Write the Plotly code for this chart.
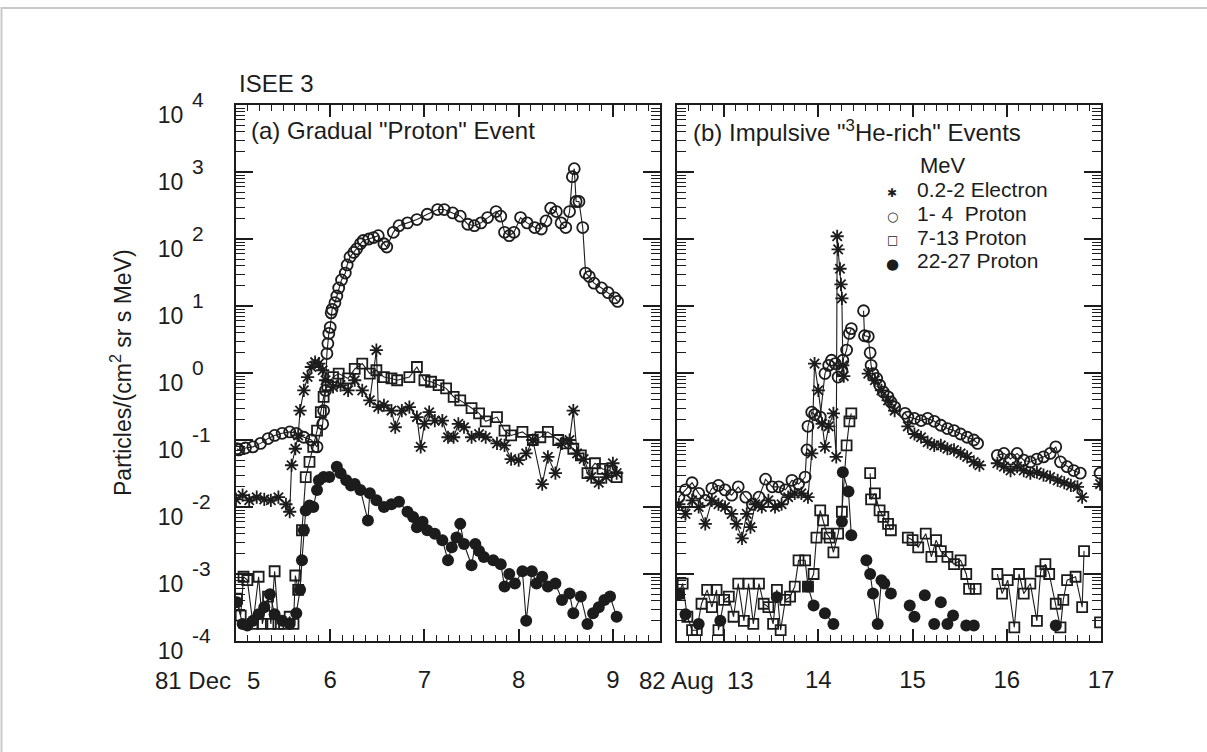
import plotly.graph_objects as go

W, H = 1207, 752
FONT = "Liberation Sans, Arial, Helvetica, sans-serif"
INK = "#1c1c1c"

# ---------------- (a) 1981 Dec, gradual event (day of month) ----------------
a_e_day = [5.00,5.07,5.14,5.22,5.30,5.37,5.45,5.53,5.57,5.59,5.63,5.66,5.68,5.72,5.76,5.80,5.84,5.88,
           5.92,5.95,6.03,6.11,6.19,6.26,6.34,6.42,6.49,6.51,6.57,6.65,6.69,6.76,6.84,6.92,6.96,7.00,
           7.05,7.11,7.19,7.25,7.31,7.36,7.42,7.50,7.58,7.65,7.77,7.85,7.92,8.00,8.08,8.15,8.25,8.31,
           8.39,8.46,8.54,8.58,8.62,8.69,8.77,8.85,8.93,9.00,9.04]
a_e_val = [1.3e-2,1.5e-2,1.26e-2,1.4e-2,1.3e-2,1.26e-2,1.4e-2,1.1e-2,8.5e-3,4.2e-2,7.4e-2,0.117,0.275,
           0.55,0.87,1.23,1.45,1.38,1.1,0.78,0.62,0.66,0.55,0.78,0.55,0.39,2.2,0.31,0.33,0.275,0.155,
           0.275,0.31,0.22,7.9e-2,0.174,0.26,0.195,0.195,0.11,0.11,0.174,0.155,0.11,0.123,0.11,8.9e-2,
           8.3e-2,5.2e-2,5.0e-2,6.3e-2,0.1,2.2e-2,5.6e-2,3.2e-2,8.9e-2,0.1,0.275,6.3e-2,5.2e-2,2.8e-2,
           2.3e-2,2.8e-2,4.5e-2,3.2e-2]

a_p1_day = [5.01,5.03,5.10,5.18,5.26,5.34,5.41,5.49,5.57,5.64,5.72,5.80,5.86,5.92,5.93,5.95,5.965,5.975,
            5.985,6.00,6.01,6.02,6.05,6.07,6.09,6.12,6.16,6.18,6.21,6.25,6.28,6.32,6.35,6.41,6.46,6.51,
            6.57,6.60,6.67,6.73,6.82,6.92,7.03,7.14,7.21,7.30,7.38,7.46,7.53,7.60,7.67,7.76,7.81,7.85,
            7.90,7.95,8.02,8.09,8.17,8.24,8.29,8.34,8.40,8.45,8.50,8.54,8.57,8.59,8.61,8.64,8.68,8.71,
            8.75,8.80,8.88,8.95,9.02,9.05]
a_p1_val = [7.4e-2,7.1e-2,7.6e-2,7.9e-2,8.9e-2,0.105,0.117,0.126,0.132,0.126,0.11,0.1,7.9e-2,0.174,0.275,
            0.55,1.95,2.75,3.9,4.8,7.9,8.9,11.2,14.1,18.6,24.5,31,41,54,63,71,85,95,100,105,112,85,76,
            126,158,174,195,234,275,275,245,219,166,158,174,209,257,219,126,112,126,209,174,148,141,186,
            288,257,174,148,257,851,1120,363,363,148,31,27.5,21.9,18.6,15.8,13.2,11.7]

a_p7_day = [5.01,5.05,5.08,5.12,5.18,5.24,5.28,5.34,5.37,5.41,5.45,5.51,5.57,5.61,5.63,5.66,5.70,5.74,
            5.78,5.82,5.86,5.90,5.93,5.97,6.03,6.09,6.19,6.26,6.34,6.42,6.49,6.57,6.65,6.71,6.84,6.92,
            7.00,7.07,7.15,7.23,7.31,7.38,7.50,7.58,7.65,7.77,7.85,7.92,8.04,8.15,8.23,8.31,8.42,8.50,
            8.58,8.66,8.73,8.81,8.89,8.97,9.04]
a_p7_val = [4.3e-4,2.4e-4,9.1e-4,8.1e-4,1.8e-4,9.1e-4,1.8e-4,4.6e-4,1.8e-4,1.1e-3,1.8e-4,1.8e-4,2.3e-4,
            1.8e-4,9.5e-4,5.8e-4,4.5e-3,2.8e-2,4.7e-2,7.9e-2,0.138,0.26,0.44,0.66,0.87,0.98,0.83,1.15,
            1.38,0.98,1.1,0.87,0.83,0.78,0.87,1.23,0.78,0.74,0.66,0.59,0.44,0.39,0.3,0.25,0.19,0.22,
            0.138,0.117,0.132,0.1,0.11,0.132,0.1,8.9e-2,7.4e-2,5.9e-2,3.2e-2,4.5e-2,3.7e-2,3.5e-2,2.8e-2]

a_p22_day = [5.01,5.07,5.12,5.18,5.24,5.30,5.36,5.41,5.49,5.57,5.64,5.68,5.70,5.72,5.74,5.78,5.82,5.86,
             5.88,5.93,5.99,6.07,6.11,6.17,6.22,6.26,6.32,6.40,6.42,6.49,6.57,6.65,6.73,6.82,6.88,6.92,
             6.98,7.03,7.11,7.19,7.25,7.29,7.34,7.38,7.42,7.50,7.54,7.58,7.63,7.73,7.81,7.85,7.90,7.96,
             8.04,8.08,8.14,8.19,8.25,8.31,8.39,8.46,8.54,8.58,8.66,8.73,8.79,8.85,8.91,8.97,9.04]
a_p22_val = [3.8e-4,1.8e-4,1.7e-4,2.0e-4,2.5e-4,3.2e-4,5.0e-4,2.5e-4,2.0e-4,1.8e-4,2.6e-4,5.8e-4,1.6e-3,
             4.5e-3,8.9e-3,1.05e-2,1.0e-2,1.8e-2,2.5e-2,2.8e-2,2.8e-2,4.0e-2,3.2e-2,2.5e-2,2.1e-2,2.2e-2,
             1.8e-2,6.3e-3,1.6e-2,1.26e-2,1.0e-2,1.1e-2,1.2e-2,8.5e-3,7.1e-3,5.0e-3,6.0e-3,4.5e-3,4.0e-3,
             3.2e-3,1.6e-3,2.5e-3,3.5e-3,5.6e-3,2.8e-3,1.35e-3,2.8e-3,2.2e-3,1.8e-3,1.6e-3,1.4e-3,6.5e-4,
             1.0e-3,7.2e-4,1.1e-3,2.0e-4,1.1e-3,7.2e-4,9.1e-4,6.5e-4,7.2e-4,4.1e-4,5.1e-4,2.6e-4,4.6e-4,
             1.8e-4,2.6e-4,3.2e-4,4.1e-4,4.6e-4,2.3e-4]

# ---------------- (b) 1982 Aug, impulsive events (day of month; None = data gap) ----------------
b_e_day = [12.52,12.59,12.66,12.73,12.80,12.87,12.94,13.01,13.08,13.13,13.19,13.24,13.28,13.33,13.40,
           13.47,13.54,13.61,13.68,13.75,13.82,13.89,13.93,13.96,14.00,14.04,14.07,14.11,14.16,14.19,
           14.20,14.21,14.23,14.24,14.25,14.26,14.27,None,14.53,14.60,14.67,14.74,14.81,None,14.95,15.02,
           15.09,15.16,15.23,15.30,15.37,15.44,15.51,15.58,15.65,15.71,None,15.90,15.97,16.04,16.11,16.18,
           16.25,16.32,16.39,16.46,16.54,16.61,16.68,16.75,16.80,None,16.99]
b_e_val = [1.1e-2,7.9e-3,1.26e-2,1.0e-2,5.6e-3,1.26e-2,1.1e-2,1.0e-2,7.9e-3,5.6e-3,3.4e-3,7.9e-3,5.0e-3,
           1.1e-2,1.0e-2,1.26e-2,1.0e-2,1.1e-2,1.4e-2,1.6e-2,1.6e-2,1.4e-2,6.3e-2,1.38,0.55,0.174,7.9e-2,
           0.16,0.25,5.6e-2,110,70,36,21,13,1.3,0.9,None,0.98,0.78,0.55,0.39,0.275,None,0.16,0.123,0.11,
           9.3e-2,8.3e-2,8.3e-2,7.4e-2,7.1e-2,6.3e-2,5.6e-2,4.7e-2,4.2e-2,None,4.5e-2,4.0e-2,3.5e-2,
           4.0e-2,3.5e-2,3.2e-2,3.3e-2,3.0e-2,2.8e-2,2.5e-2,2.3e-2,2.1e-2,2.0e-2,1.4e-2,None,2.2e-2]

b_p1_day = [12.52,12.59,12.66,12.73,12.80,12.87,12.94,13.01,13.08,13.15,13.23,13.30,13.37,13.44,13.51,
            13.58,13.65,13.72,13.79,13.86,13.88,13.89,13.93,13.96,14.02,14.07,14.11,14.14,14.18,14.21,
            14.25,14.26,14.30,14.33,14.35,None,14.48,14.49,14.53,14.55,14.56,14.58,14.62,14.65,14.69,
            14.74,14.77,14.81,None,14.92,14.95,15.02,15.09,15.16,15.23,15.30,15.37,15.44,15.51,15.58,
            15.65,15.69,None,15.90,15.97,16.04,16.11,16.18,16.25,16.32,16.39,16.46,16.52,16.57,16.64,
            16.71,16.78,None,16.99]
b_p1_val = [1.4e-2,1.8e-2,2.3e-2,1.6e-2,1.26e-2,1.9e-2,2.1e-2,1.8e-2,1.5e-2,2.0e-2,1.4e-2,1.1e-2,1.4e-2,
            2.6e-2,2.0e-2,2.0e-2,1.8e-2,2.5e-2,2.2e-2,2.8e-2,7.1e-2,0.16,0.26,0.24,0.22,0.98,1.3,1.55,
            1.38,0.87,1.1,1.55,2.2,3.9,4.6,None,8.5,3.6,3.5,2.0,1.3,0.98,0.83,0.66,0.52,0.44,0.37,0.31,
            None,0.25,0.22,0.21,0.195,0.21,0.19,0.166,0.148,0.138,0.123,0.11,0.1,8.9e-2,None,5.9e-2,
            6.3e-2,5.2e-2,6.3e-2,5.0e-2,4.7e-2,5.2e-2,5.6e-2,6.3e-2,7.9e-2,4.7e-2,4.0e-2,3.5e-2,3.2e-2,
            None,3.2e-2]

b_p7_day = [12.52,12.56,12.61,12.66,12.71,12.76,12.82,12.87,12.92,12.94,13.00,13.05,13.10,13.15,13.21,
            13.26,13.31,13.37,13.42,13.47,13.52,13.56,13.60,13.65,13.70,13.75,13.79,13.86,13.89,13.95,
            13.98,14.02,14.05,14.09,14.12,14.16,14.21,14.25,14.30,14.33,14.35,None,14.55,14.56,14.60,
            14.65,14.69,14.74,14.77,None,14.95,15.00,15.06,15.14,15.20,15.25,15.30,15.37,15.44,15.51,
            15.57,15.60,15.67,None,15.90,15.95,16.01,16.08,16.13,16.18,16.25,16.32,16.36,16.41,16.45,
            16.52,16.57,16.60,16.64,16.73,16.80,16.82,None,16.99]
b_p7_val = [5.1e-4,7.2e-4,2.3e-4,1.45e-4,1.45e-4,3.6e-4,5.8e-4,3.2e-4,5.8e-4,1.45e-4,4.1e-4,4.6e-4,2.3e-4,
            7.2e-4,2.0e-4,7.2e-4,1.8e-4,7.2e-4,3.6e-4,3.2e-4,1.8e-4,5.8e-4,1.45e-4,4.1e-4,4.6e-4,6.5e-4,
            1.6e-3,1.6e-3,6.5e-4,1.0e-3,3.5e-3,8.9e-3,6.3e-3,4.0e-3,3.5e-3,2.1e-3,4.0e-3,8.5e-3,8.3e-2,
            0.19,0.25,None,3.2e-2,1.3e-2,1.6e-2,8.9e-3,7.1e-3,5.6e-3,4.5e-3,None,3.5e-3,3.2e-3,2.5e-3,
            4.0e-3,1.8e-3,3.2e-3,2.2e-3,1.8e-3,1.4e-3,1.6e-3,1.0e-3,6.0e-4,6.0e-4,None,1.0e-3,5.1e-4,
            8.1e-4,1.6e-4,1.0e-3,5.1e-4,7.2e-4,2.0e-4,1.1e-3,1.4e-3,1.0e-3,3.6e-4,1.6e-4,4.1e-4,8.1e-4,
            9.1e-4,3.2e-4,2.2e-3,None,1.9e-4]

b_p22_day = [12.52,None,12.59,None,12.73,None,12.96,None,13.56,None,13.89,13.95,None,14.07,14.16,None,
             14.25,14.26,14.32,14.35,None,14.51,14.55,14.58,14.63,14.67,14.70,14.77,None,14.97,15.02,None,
             15.13,None,15.23,None,15.30,None,15.37,15.43,None,15.57,None,15.65,None,16.52]
b_p22_val = [5.0e-4,None,2.5e-4,None,1.8e-4,None,2.0e-4,None,4.5e-4,None,6.5e-4,3.4e-4,None,2.6e-4,1.8e-4,
             None,6.0e-3,3.3e-2,1.7e-2,3.8e-3,None,1.6e-3,1.0e-3,5.1e-4,1.8e-4,8.1e-4,7.2e-4,5.1e-4,None,
             3.4e-4,2.3e-4,None,4.8e-4,None,1.8e-4,None,3.8e-4,None,1.8e-4,2.4e-4,None,1.7e-4,None,1.7e-4,
             None,1.7e-4]

# ---------------- labels ----------------
series_names = ["0.2-2 Electron", "1- 4  Proton", "7-13 Proton", "22-27 Proton"]
legend_symbols = ["\u2731", "\u25cb", "\u25a1", "\u25cf"]
decades = list(range(-4, 5))
y_ticktext = ["10" for k in decades]
y_exponents = [str(k) for k in decades]
left_days = [5, 6, 7, 8, 9]
left_daytext = ["", "6", "7", "8", "9"]
right_days = [13, 14, 15, 16, 17]
right_daytext = ["", "14", "15", "16", "17"]

# ---------------- styling ----------------
MARK = {
    "e": dict(symbol="asterisk-open", size=11, color=INK, line=dict(width=1.8, color=INK)),
    "p1": dict(symbol="circle-open", size=11, color=INK, line=dict(width=1.8, color=INK)),
    "p7": dict(symbol="square-open", size=10, color=INK, line=dict(width=1.8, color=INK)),
    "p22": dict(symbol="circle", size=12, color=INK, line=dict(width=0, color=INK)),
}

fig = go.Figure()

def add(xs, ys, key, name, xa, ya):
    fig.add_trace(go.Scatter(
        x=xs, y=ys, mode="lines+markers", name=name, showlegend=False,
        line=dict(color=INK, width=1.1), marker=MARK[key], connectgaps=False,
        xaxis=xa, yaxis=ya, cliponaxis=True))

for (xs, ys, key, nm) in [(a_p22_day, a_p22_val, "p22", series_names[3]),
                          (a_p7_day, a_p7_val, "p7", series_names[2]),
                          (a_e_day, a_e_val, "e", series_names[0]),
                          (a_p1_day, a_p1_val, "p1", series_names[1])]:
    add(xs, ys, key, nm, "x", "y")

for (xs, ys, key, nm) in [(b_p22_day, b_p22_val, "p22", series_names[3]),
                          (b_p7_day, b_p7_val, "p7", series_names[2]),
                          (b_e_day, b_e_val, "e", series_names[0]),
                          (b_p1_day, b_p1_val, "p1", series_names[1])]:
    add(xs, ys, key, nm, "x2", "y2")

# pixel geometry of the two frames
XL0, XL1 = 236, 660
XR0, XR1 = 677, 1101
YT, YB = 105, 641

def fx(px):
    return px / W

def fy(py):
    return 1 - py / H

yminor = [m * 10.0 ** k for k in range(-4, 4) for m in range(2, 10)]

def xaxis_common(dom, rng, tv, tt, t0):
    return dict(
        domain=[fx(dom[0]), fx(dom[1])], range=rng, type="linear",
        showline=True, linewidth=2, linecolor=INK, mirror="allticks",
        ticks="inside", ticklen=12, tickwidth=1.5, tickcolor=INK,
        tickmode="array", tickvals=tv, ticktext=tt,
        tickfont=dict(family=FONT, size=24, color=INK),
        ticklabelstandoff=16,
        minor=dict(ticks="inside", ticklen=6, tickwidth=1.2, tickcolor=INK,
                   tick0=t0, dtick=0.125, showgrid=False),
        showgrid=False, zeroline=False, fixedrange=True, automargin=False)

def yaxis_common(anchor, labels):
    return dict(
        domain=[fy(YB), fy(YT)], type="log", range=[-4, 4], anchor=anchor,
        showline=True, linewidth=2, linecolor=INK, mirror="allticks",
        ticks="inside", ticklen=17, tickwidth=1.5, tickcolor=INK,
        tickmode="array", tickvals=[10.0 ** k for k in decades], ticktext=y_ticktext,
        showticklabels=labels,
        tickfont=dict(family=FONT, size=23, color=INK),
        ticklabelstandoff=46, ticklabelshift=10,
        minor=dict(ticks="inside", ticklen=9, tickwidth=1.2, tickcolor=INK,
                   tickmode="array", tickvals=yminor, showgrid=False),
        showgrid=False, zeroline=False, fixedrange=True, automargin=False)

xa1 = xaxis_common((XL0, XL1), [5, 9.5], left_days, left_daytext, 5)
xa1["anchor"] = "y"
xa2 = xaxis_common((XR0, XR1), [12.5, 17], right_days, right_daytext, 12.5)
xa2["anchor"] = "y2"

ann = []
def text(t, x, y, size=24, xanchor="left", yanchor="middle", angle=0, family=FONT):
    ann.append(dict(text=t, x=fx(x), y=fy(y), xref="paper", yref="paper",
                    xanchor=xanchor, yanchor=yanchor, showarrow=False, textangle=angle,
                    font=dict(family=family, size=size, color=INK)))

# exponents of the decade tick labels ("10" is the axis tick text)
for k, ex in zip(decades, y_exponents):
    ann.append(dict(text=ex, x=fx(190), y=k, xref="paper", yref="y", xanchor="left",
                    yanchor="middle", yshift=6, showarrow=False,
                    font=dict(family=FONT, size=21, color=INK)))

text("ISEE 3", 237, 84)
text("(a) Gradual \"Proton\" Event", 249, 131)
text("(b) Impulsive \"<sup>3</sup>He-rich\" Events", 691, 131)
text("Particles/(cm<sup>2</sup> sr s MeV)", 121, 373, size=23, xanchor="center", angle=-90)
text("81 Dec", 233, 680, xanchor="right")
text("5", 253.5, 680, xanchor="center")
text("82 Aug", 716, 680, xanchor="right")
text("13", 740.5, 680, xanchor="center")
# legend
text("MeV", 943, 165, size=22, xanchor="center")
leg_y_txt = [189.5, 213.3, 237.1, 260.9]
leg_y_sym = [193, 216, 240, 264]
leg_sizes = [12, 13, 12, 15]
for nm, sym, yt, ys, ss in zip(series_names, legend_symbols, leg_y_txt, leg_y_sym, leg_sizes):
    text(nm.replace("  ", "\u00a0 "), 915, yt, size=21)
    text(sym, 892, ys, size=ss, xanchor="center", family="DejaVu Sans")

fig.update_layout(
    template="none",
    width=W, height=H, autosize=False,
    margin=dict(l=0, r=0, t=0, b=0, pad=0),
    paper_bgcolor="white", plot_bgcolor="white",
    showlegend=False,
    xaxis=xa1, xaxis2=xa2,
    yaxis=yaxis_common("x", True),
    yaxis2=dict(yaxis_common("x2", False)),
    annotations=ann,
    shapes=[dict(type="rect", xref="paper", yref="paper", x0=fx(1.5), x1=1.05, y0=-0.05, y1=fy(8),
                 line=dict(color="#c9c9c9", width=2), fillcolor="rgba(0,0,0,0)", layer="below")],
)

fig.write_html("out.html")
